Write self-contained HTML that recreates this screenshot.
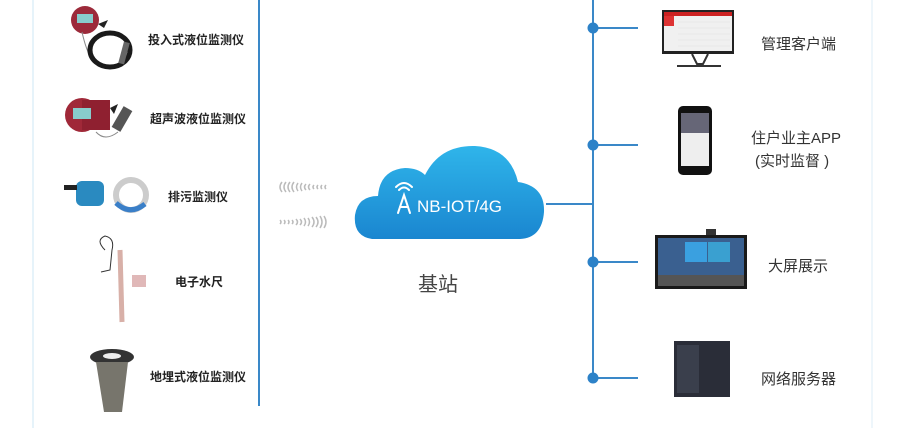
<!DOCTYPE html>
<html><head><meta charset="utf-8"><style>
html,body{margin:0;padding:0;background:#fff;}
body{width:905px;height:428px;overflow:hidden;position:relative;font-family:"Liberation Sans","Noto Sans CJK SC",sans-serif;}
.t{position:absolute;font-size:12px;font-weight:bold;color:#222;white-space:nowrap;}
.r{position:absolute;font-size:15px;color:#333;white-space:nowrap;}
</style></head><body>
<svg width="905" height="428" style="position:absolute;left:0;top:0">
<defs>
<linearGradient id="cg" x1="0" y1="0" x2="0" y2="1"><stop offset="0" stop-color="#2fb5ea"/><stop offset="1" stop-color="#1a86d0"/></linearGradient>
</defs>
<line x1="33" y1="0" x2="33" y2="428" stroke="#e6f3fa" stroke-width="2"/>
<line x1="872" y1="0" x2="872" y2="428" stroke="#eef6fb" stroke-width="2"/>
<line x1="259" y1="0" x2="259" y2="406" stroke="#3a88c8" stroke-width="2"/>
<line x1="593" y1="0" x2="593" y2="378" stroke="#3a88c8" stroke-width="2"/>
<line x1="546" y1="204" x2="593" y2="204" stroke="#3a88c8" stroke-width="2"/>
<g stroke="#3a88c8" stroke-width="2">
<line x1="593" y1="28" x2="638" y2="28"/><line x1="593" y1="145" x2="638" y2="145"/>
<line x1="593" y1="262" x2="638" y2="262"/><line x1="593" y1="378" x2="638" y2="378"/>
</g>
<g fill="#2d82c8"><circle cx="593" cy="28" r="5.5"/><circle cx="593" cy="145" r="5.5"/><circle cx="593" cy="262" r="5.5"/><circle cx="593" cy="378" r="5.5"/></g>
<path d="M372 239 Q353 236 355 215 Q358 196 378 196 Q380 170 405 168 Q418 168 425 175 Q440 145 475 146 Q510 148 518 182 Q545 186 544 212 Q542 238 520 239 Z" fill="url(#cg)"/>
<g stroke="#fff" stroke-width="2" fill="none" stroke-linecap="round">
<path d="M398 213 L404 195 L410 213"/><line x1="400" y1="207" x2="408" y2="207"/>
<path d="M399 190 Q404 185 409 190"/><path d="M396 187 Q404 179 412 187"/>
</g>
<text x="417" y="212" font-family="Liberation Sans,sans-serif" font-size="17" fill="#fff">NB-IOT/4G</text>
<g stroke="#bbb" stroke-width="1.5" fill="none">
<path d="M282 182 q-4 5 0 10"/><path d="M286 182 q-4 5 0 10"/><path d="M290 182 q-4 5 0 10"/><path d="M294 182 q-4 5 0 10"/><path d="M298 183 q-3 4 0 8"/><path d="M302 183 q-3 4 0 8"/><path d="M306 184 q-3 3 0 6"/><path d="M310 184 q-3 3 0 6"/><path d="M314 185 q-2 2 0 4"/><path d="M318 185 q-2 2 0 4"/><path d="M322 185 q-2 2 0 4"/><path d="M326 185 q-2 2 0 4"/>
<path d="M280 220 q2 2 0 4"/><path d="M284 220 q2 2 0 4"/><path d="M288 220 q2 2 0 4"/><path d="M292 220 q2 2 0 4"/><path d="M296 219 q3 3 0 6"/><path d="M300 219 q3 3 0 6"/><path d="M304 218 q3 4 0 8"/><path d="M308 218 q3 4 0 8"/><path d="M312 217 q4 5 0 10"/><path d="M316 217 q4 5 0 10"/><path d="M320 216 q4 6 0 12"/><path d="M324 216 q4 6 0 12"/>
</g>
<!-- device 1 -->
<circle cx="85" cy="20" r="14" fill="#9c2a3a"/><rect x="77" y="14" width="16" height="9" fill="#8cc"/>
<path d="M98 24 L108 20 L104 28 Z" fill="#222"/>
<path d="M82 32 Q86 50 92 60" stroke="#888" fill="none"/>
<ellipse cx="110" cy="50" rx="20" ry="17" fill="none" stroke="#1a1a1a" stroke-width="5"/>
<rect x="121" y="42" width="6" height="22" fill="#666" transform="rotate(15 124 53)"/>
<!-- device 2 -->
<circle cx="82" cy="115" r="17" fill="#a02838"/><rect x="82" y="100" width="28" height="30" fill="#8f2030"/><rect x="73" y="108" width="18" height="11" fill="#8cc"/>
<path d="M110 108 L118 104 L114 114 Z" fill="#222"/>
<rect x="117" y="107" width="10" height="24" fill="#555" transform="rotate(30 122 119)"/>
<path d="M96 132 Q105 142 118 132" stroke="#888" fill="none"/>
<!-- device 3 -->
<rect x="76" y="181" width="28" height="25" rx="6" fill="#2a8ac0"/><rect x="64" y="185" width="13" height="5" fill="#222"/>
<circle cx="131" cy="195" r="15" fill="none" stroke="#ccc" stroke-width="6"/><path d="M116 203 Q130 216 145 204" stroke="#3a7fc8" stroke-width="5" fill="none"/>
<!-- device 4 -->
<path d="M105 250 Q95 240 105 236 Q115 238 112 250 L110 270 L101 272" stroke="#333" fill="none"/>
<line x1="120" y1="250" x2="122" y2="322" stroke="#d8b0a8" stroke-width="5"/><rect x="132" y="275" width="14" height="12" fill="#c88" opacity=".6"/>
<!-- device 5 -->
<ellipse cx="112" cy="357" rx="22" ry="8" fill="#333"/><ellipse cx="112" cy="356" rx="9" ry="3" fill="#eee"/>
<path d="M96 362 L128 362 L122 412 L104 412 Z" fill="#77756c"/>
<!-- right devices -->
<rect x="662" y="10" width="72" height="44" fill="#222"/><rect x="664" y="12" width="68" height="39" fill="#f0f0f0"/><rect x="664" y="12" width="68" height="4" fill="#c22"/><rect x="664" y="16" width="10" height="10" fill="#d33"/>
<g stroke="#ddd" stroke-width="0.6"><line x1="678" y1="22" x2="730" y2="22"/><line x1="678" y1="28" x2="730" y2="28"/><line x1="678" y1="34" x2="730" y2="34"/><line x1="678" y1="40" x2="730" y2="40"/><line x1="678" y1="46" x2="730" y2="46"/></g>
<path d="M692 54 L697 64 L703 64 L708 54" stroke="#333" stroke-width="2" fill="none"/><line x1="677" y1="66" x2="721" y2="66" stroke="#333" stroke-width="2"/>
<rect x="678" y="106" width="34" height="69" rx="5" fill="#111"/><rect x="681" y="113" width="28" height="53" fill="#eee"/><rect x="681" y="113" width="28" height="20" fill="#667"/>
<rect x="706" y="229" width="10" height="6" fill="#333"/>
<rect x="655" y="235" width="92" height="54" fill="#1a1a1a"/><rect x="658" y="238" width="86" height="48" fill="#3a6090"/><rect x="685" y="242" width="22" height="20" fill="#3aa0e0"/><rect x="708" y="242" width="22" height="20" fill="#3aa0d0"/><rect x="658" y="275" width="86" height="11" fill="#555"/>
<rect x="674" y="341" width="56" height="56" fill="#2a2d38"/><rect x="677" y="345" width="22" height="48" fill="#3a3f4c"/>
</svg>
<div class="t" style="left:148px;top:31px">投入式液位监测仪</div>
<div class="t" style="left:150px;top:110px">超声波液位监测仪</div>
<div class="t" style="left:168px;top:188px">排污监测仪</div>
<div class="t" style="left:175px;top:273px">电子水尺</div>
<div class="t" style="left:150px;top:368px">地埋式液位监测仪</div>
<div class="r" style="left:418px;top:268px;font-size:20px;color:#444">基站</div>
<div class="r" style="left:761px;top:33px">管理客户端</div>
<div class="r" style="left:751px;top:127px">住户业主APP</div>
<div class="r" style="left:755px;top:150px">(实时监督 )</div>
<div class="r" style="left:768px;top:255px">大屏展示</div>
<div class="r" style="left:761px;top:368px">网络服务器</div>
</body></html>
